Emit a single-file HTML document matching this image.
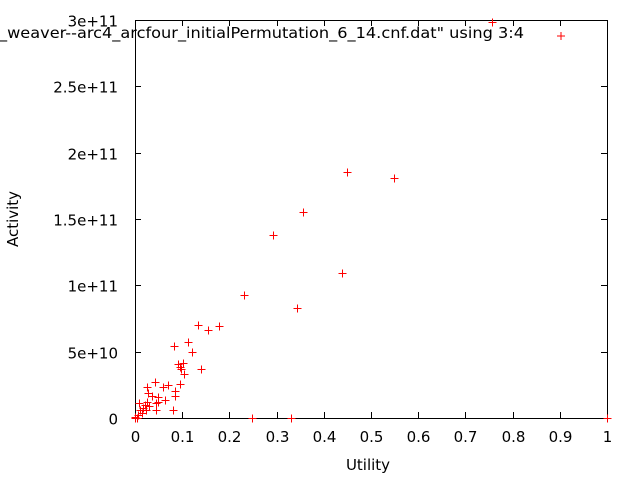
<!DOCTYPE html>
<html><head><meta charset="utf-8"><style>
body{margin:0;background:#fff;}
svg text{font-family:"DejaVu Sans","Liberation Sans",sans-serif;font-size:15px;fill:#000;}
</style></head><body>
<svg width="640" height="480" viewBox="0 0 640 480">
<rect width="640" height="480" fill="#fff"/>
<g id="axes"></g>
<g id="pts"></g>
<text x="-1" y="38" textLength="525" lengthAdjust="spacingAndGlyphs">_weaver--arc4_arcfour_initialPermutation_6_14.cnf.dat" using 3:4</text>
<g stroke="#f00" stroke-width="1"><line x1="557" y1="36" x2="565" y2="36"/><line x1="561" y1="32" x2="561" y2="40"/></g>
<text x="368" y="470" text-anchor="middle">Utility</text>
<text transform="translate(18,219) rotate(-90)" text-anchor="middle">Activity</text>
</svg>
<script>
const xTicks=[0,0.1,0.2,0.3,0.4,0.5,0.6,0.7,0.8,0.9,1];
const xTickLabels=["0","0.1","0.2","0.3","0.4","0.5","0.6","0.7","0.8","0.9","1"];
const yTicks=[0,5e10,1e11,1.5e11,2e11,2.5e11,3e11];
const yTickLabels=["0","5e+10","1e+11","1.5e+11","2e+11","2.5e+11","3e+11"];
const utility=[0.449,0.549,0.356,0.292,0.439,0.231,0.343,0.248,0.331,1.0,0.756,0,0.155,0.083,0.112,0.121,0.091,0.095,0.102,0.097,0.104,0.140,0.042,0.025,0.070,0.059,0.095,0.085,0.085,0.028,0.036,0.049,0.064,0.049,0.044,0.025,0.008,0.021,0.030,0.011,0.017,0.023,0.044,0.081,0.015,0.006,0.0,0.004,0.178,0.133];
const activity=[185.4,180.9,155.3,137.9,109.3,92.7,82.9,0,0,0,298.5,0,66.3,54.3,57.3,49.8,40.7,38.4,41.5,36.9,33.2,36.9,27.1,23.4,24.9,23.4,25.6,20.4,16.6,18.8,16.6,15.8,13.6,12.1,11.3,12.1,11.3,9.8,9.0,6.0,7.5,6.0,6.0,6.0,3.8,2.3,0.8,0,69.3,70.1].map(v=>v*1e9);
const L=135,R=607,T=20,B=418;
const sx=v=>L+v*(R-L);
const sy=v=>B-v/3e11*(B-T);
const NS="http://www.w3.org/2000/svg";
function mk(tag,attrs,parent){const e=document.createElementNS(NS,tag);for(const k in attrs)e.setAttribute(k,attrs[k]);parent.appendChild(e);return e;}
const ax=document.getElementById('axes');
const frame=mk('rect',{x:L+0.5,y:T+0.5,width:R-L,height:B-T,fill:'none',stroke:'#000','stroke-width':1},ax);


xTicks.forEach((v,i)=>{const x=Math.round(sx(v))+0.5;
 mk('line',{x1:x,y1:B,x2:x,y2:B-6,stroke:'#000'},ax);
 mk('line',{x1:x,y1:T,x2:x,y2:T+6,stroke:'#000'},ax);
 const t=mk('text',{x:x,y:B+24,'text-anchor':'middle'},ax);t.textContent=xTickLabels[i];
 
 
});
yTicks.forEach((v,i)=>{const y=Math.round(sy(v))+0.5;
 mk('line',{x1:L,y1:y,x2:L+6,y2:y,stroke:'#000'},ax);
 mk('line',{x1:R,y1:y,x2:R-6,y2:y,stroke:'#000'},ax);
 const t=mk('text',{x:L-17,y:y+6,'text-anchor':'end'},ax);t.textContent=yTickLabels[i];
 
 
});
const pg=document.getElementById('pts');
utility.forEach((u,i)=>{const x=Math.round(sx(u))+0.5,y=Math.round(sy(activity[i]))+0.5;
 const g=mk('g',{stroke:'#f00','stroke-width':1},pg);
 
 
 mk('line',{x1:x-4,y1:y,x2:x+4,y2:y},g);
 mk('line',{x1:x,y1:y-4,x2:x,y2:y+4},g);
});
</script>
</body></html>
